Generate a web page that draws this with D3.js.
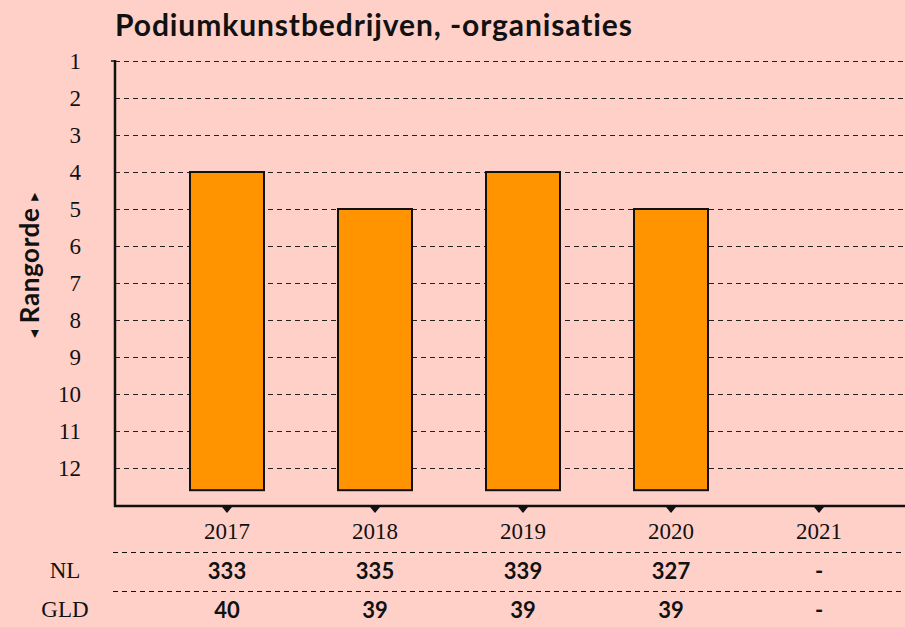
<!DOCTYPE html>
<html>
<head>
<meta charset="utf-8">
<script src="https://cdn.jsdelivr.net/npm/d3@7"></script>
<style>
  body { margin: 0; background: #ffd0c8; }
  svg { display: block; }
  .grid line { stroke: #222; stroke-dasharray: 5,4; stroke-width: 1; }
  .ylab, .xlab, .rowlab { font-family: "Liberation Serif", "DejaVu Serif", serif; font-size: 23px; fill: #111; }
  .val { font-family: Lato, "Noto Sans", sans-serif; font-weight: bold; font-size: 22px; fill: #111; }
</style>
</head>
<body>
<div id="chart"></div>
<script>
var width = 905,
    height = 627;

var years = ["2017", "2018", "2019", "2020", "2021"];
var ranks = [4, 5, 4, 5, null];
var nlCount = ["333", "335", "339", "327", "-"];
var gldCount = ["40", "39", "39", "39", "-"];
var rankTicks = [1, 2, 3, 4, 5, 6, 7, 8, 9, 10, 11, 12];
var barBase = 12.6;

var svg = d3.select("#chart").append("svg")
    .attr("width", width)
    .attr("height", height);

svg.append("rect").attr("width", width).attr("height", height).attr("fill", "#ffd0c8");

// scales
var x = d3.scaleBand()
    .domain(years)
    .range([153, 893]);

var y = d3.scaleLinear()
    .domain([1, 13])
    .range([61, 505]);

// title
svg.append("text")
    .attr("x", 115)
    .attr("y", 36)
    .style("font-family", "Lato, 'Noto Sans', sans-serif")
    .style("font-weight", "bold")
    .style("font-size", "30px")
    .style("letter-spacing", "0.9px")
    .style("fill", "#111")
    .text("Podiumkunstbedrijven, -organisaties");

// grid lines
svg.append("g")
    .attr("class", "grid")
  .selectAll("line")
    .data(rankTicks)
  .enter().append("line")
    .attr("x1", 115)
    .attr("x2", width)
    .attr("y1", function(d) { return Math.round(y(d)) + 0.5; })
    .attr("y2", function(d) { return Math.round(y(d)) + 0.5; });

// y tick labels
svg.append("g")
  .selectAll("text")
    .data(rankTicks)
  .enter().append("text")
    .attr("class", "ylab")
    .attr("x", 81)
    .attr("y", function(d) { return y(d) + 8; })
    .attr("text-anchor", "end")
    .text(function(d) { return d; });

// bars
svg.append("g")
  .selectAll("rect")
    .data(years.filter(function(d, i) { return ranks[i] != null; }))
  .enter().append("rect")
    .attr("x", function(d) { return x(d) + x.bandwidth() / 4; })
    .attr("width", x.bandwidth() / 2)
    .attr("y", function(d) { return y(ranks[years.indexOf(d)]); })
    .attr("height", function(d) { return y(barBase) - y(ranks[years.indexOf(d)]); })
    .attr("fill", "#ff9400")
    .attr("stroke", "#111")
    .attr("stroke-width", 2);

// axes lines
svg.append("line")
    .attr("x1", 115).attr("x2", 115)
    .attr("y1", 60).attr("y2", 507)
    .attr("stroke", "#111").attr("stroke-width", 2.5);
svg.append("line")
    .attr("x1", 111).attr("x2", 115)
    .attr("y1", 61).attr("y2", 61)
    .attr("stroke", "#111").attr("stroke-width", 1.5);
svg.append("line")
    .attr("x1", 114).attr("x2", width)
    .attr("y1", 506).attr("y2", 506)
    .attr("stroke", "#111").attr("stroke-width", 2.5);

// x tick markers
svg.append("g")
  .selectAll("path")
    .data(years)
  .enter().append("path")
    .attr("d", function(d) {
      var cx = x(d) + x.bandwidth() / 2;
      return "M" + (cx - 5) + ",507L" + (cx + 5) + ",507L" + cx + ",513Z";
    })
    .attr("fill", "#111");

// x labels
svg.append("g")
  .selectAll("text")
    .data(years)
  .enter().append("text")
    .attr("class", "xlab")
    .attr("x", function(d) { return x(d) + x.bandwidth() / 2; })
    .attr("y", 539)
    .attr("text-anchor", "middle")
    .text(function(d) { return d; });

// table rows
var rows = [
  { label: "NL", values: nlCount, line: 552, base: 579 },
  { label: "GLD", values: gldCount, line: 591, base: 618 }
];

rows.forEach(function(r) {
  svg.append("line")
      .attr("x1", 113).attr("x2", width)
      .attr("y1", r.line + 0.5).attr("y2", r.line + 0.5)
      .attr("stroke", "#111")
      .attr("stroke-dasharray", "5,4");
  svg.append("text")
      .attr("class", "rowlab")
      .attr("x", 65)
      .attr("y", r.base - 1)
      .attr("text-anchor", "middle")
      .text(r.label);
  svg.append("g")
    .selectAll("text")
      .data(r.values)
    .enter().append("text")
      .attr("class", "val")
      .attr("x", function(d, i) { return x(years[i]) + x.bandwidth() / 2; })
      .attr("y", r.base)
      .attr("text-anchor", "middle")
      .text(function(d) { return d; });
});

// y axis title
var yt = svg.append("text")
    .attr("transform", "translate(39,265) rotate(-90)")
    .attr("text-anchor", "middle")
    .style("font-family", "Lato, 'Noto Sans', sans-serif")
    .style("font-weight", "bold")
    .style("font-size", "26px")
    .style("letter-spacing", "0.6px")
    .style("fill", "#111");
yt.append("tspan").style("font-family", "'DejaVu Sans'").style("font-size", "16px").text("\u25C2 ");
yt.append("tspan").text(" Rangorde ");
yt.append("tspan").style("font-family", "'DejaVu Sans'").style("font-size", "16px").text(" \u25B8");
</script>
</body>
</html>
